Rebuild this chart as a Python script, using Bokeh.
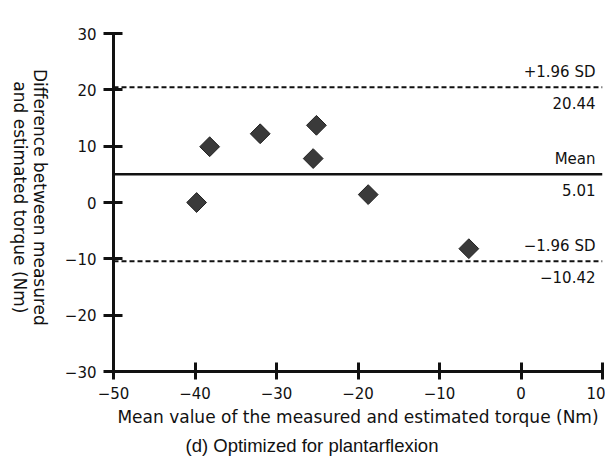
import math
from bokeh.plotting import figure
from bokeh.models import FixedTicker, Span, Label, ColumnDataSource, Title
from bokeh.layouts import row
from bokeh.embed import file_html
from bokeh.resources import INLINE

# ---- data ----
mean_vals = [-39.8, -38.2, -32.0, -25.1, -25.5, -18.75, -6.4]
diff_vals = [0.0, 9.9, 12.2, 13.7, 7.8, 1.4, -8.2]

limit_values = [20.44, 5.01, -10.42]
limit_names = ["+1.96 SD", "Mean", "\u22121.96 SD"]
limit_texts = ["20.44", "5.01", "\u221210.42"]

x_ticks = [-50, -40, -30, -20, -10, 0, 10]
y_ticks = [-30, -20, -10, 0, 10, 20, 30]

x_label = "Mean value of the measured and estimated torque (Nm)"
y_label_lines = ["Difference between measured", "and estimated torque (Nm)"]
caption = "(d) Optimized for plantarflexion"

FONT = "DejaVu Sans"
INK = "#111111"
H = 466

def fmt(v):
    return ("\u2212" + str(abs(v))) if v < 0 else str(v)

# ---- left strip carrying the rotated y-axis title ----
lf = figure(width=60, height=H, x_range=(0, 60), y_range=(0, H),
            output_backend="svg", toolbar_location=None,
            x_axis_location=None, y_axis_location=None, min_border=0)
lf.outline_line_color = None
lf.xgrid.grid_line_color = None
lf.ygrid.grid_line_color = None
for xc, txt in zip([39, 19], y_label_lines):
    lf.add_layout(Label(x=xc, y=H - 226, text=txt, angle=-math.pi / 2,
                        text_align="center", text_baseline="middle",
                        text_font=FONT, text_font_size="17px", text_color=INK))

# ---- main chart ----
p = figure(width=545, height=H, x_range=(-50, 10), y_range=(-30, 30),
           output_backend="svg", toolbar_location=None,
           min_border_left=53, min_border_right=3,
           min_border_top=33, min_border_bottom=95)
p.outline_line_color = None
p.xgrid.grid_line_color = None
p.ygrid.grid_line_color = None
p.background_fill_color = "white"
p.border_fill_color = "white"

for ax, ticks in ((p.xaxis[0], x_ticks), (p.yaxis[0], y_ticks)):
    ax.ticker = FixedTicker(ticks=ticks)
    ax.major_label_overrides = {t: fmt(t) for t in ticks}
    ax.axis_line_width = 3
    ax.axis_line_color = INK
    ax.major_tick_line_width = 3
    ax.major_tick_line_color = INK
    ax.minor_tick_line_color = None
    ax.major_label_text_font = FONT
    ax.major_label_text_font_size = "15px"
    ax.major_label_text_color = INK

p.xaxis.major_tick_in = 9
p.xaxis.major_tick_out = 8
p.xaxis.major_label_standoff = 7
p.yaxis.major_tick_in = 9
p.yaxis.major_tick_out = 10
p.yaxis.major_label_standoff = 7

# limit lines with their labels
dashes = ["5 3", "solid", "5 3"]
widths = [2, 2.5, 2]
for v, d, w, name, txt in zip(limit_values, dashes, widths, limit_names, limit_texts):
    p.add_layout(Span(location=v, dimension="width", line_color=INK,
                      line_width=w, line_dash=d))
    p.add_layout(Label(x=10, y=v, x_offset=-7, y_offset=15, text=name,
                       text_align="right", text_baseline="alphabetic",
                       text_font=FONT, text_font_size="15px", text_color=INK))
    p.add_layout(Label(x=10, y=v, x_offset=-7, y_offset=-10, text=txt,
                       text_align="right", text_baseline="top",
                       text_font=FONT, text_font_size="15px", text_color=INK))

src = ColumnDataSource(dict(x=mean_vals, y=diff_vals))
p.scatter("x", "y", source=src, marker="square", angle=math.pi / 4, size=14,
          fill_color="#3a3a3a", line_color="#222222", line_width=1)

# x-axis title and caption below the axis
p.add_layout(Title(text=x_label, align="center", standoff=6,
                   text_font=FONT, text_font_size="17px", text_font_style="normal",
                   text_color=INK), "below")
p.add_layout(Title(text=caption, align="left", offset=72, standoff=7,
                   text_font="Liberation Sans", text_font_size="18.5px",
                   text_font_style="normal", text_color=INK), "below")

layout = row(lf, p)
open("out.html", "w").write(file_html(layout, INLINE))
